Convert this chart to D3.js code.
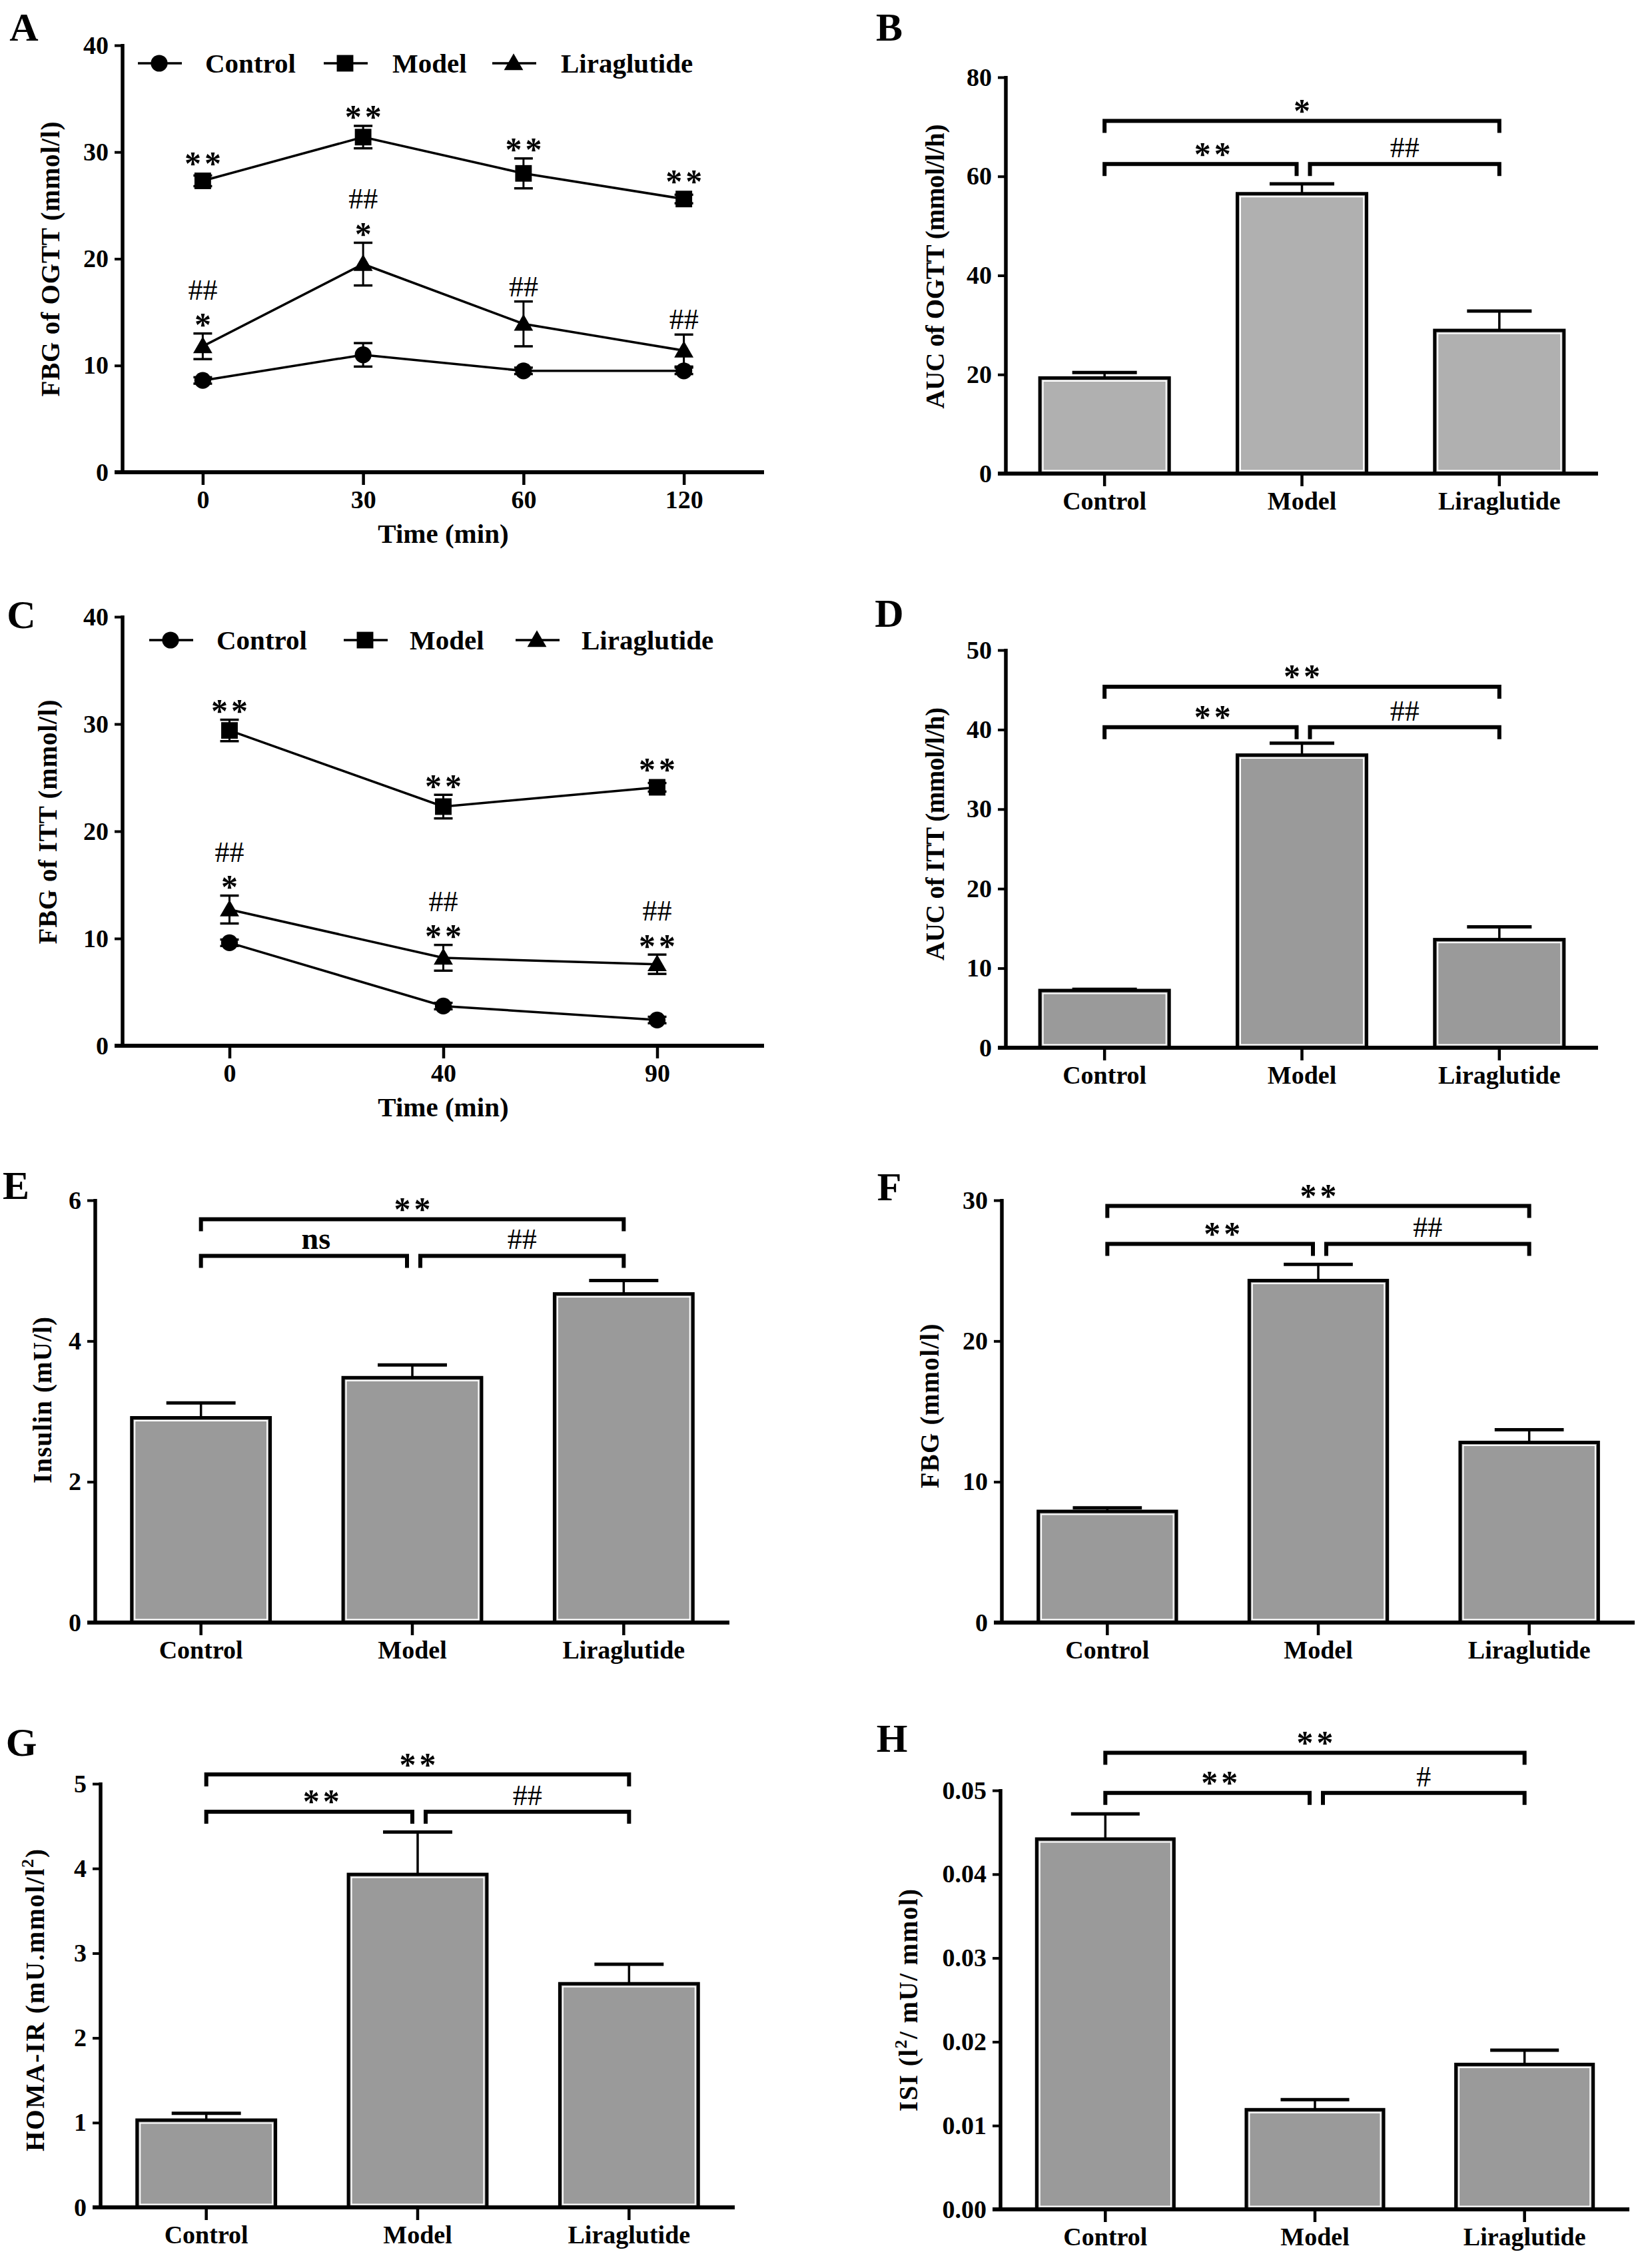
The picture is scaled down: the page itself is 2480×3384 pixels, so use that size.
<!DOCTYPE html>
<html><head><meta charset="utf-8">
<script src="https://cdn.jsdelivr.net/npm/d3@7"></script>
<style>html,body{margin:0;padding:0;background:#fff}svg{display:block}</style>
</head><body>
<svg id="fig" width="2480" height="3384"></svg>
<script>
// ---------------- DATA ----------------
const groups = ["Control", "Model", "Liraglutide"];
const seriesNames = ["Control", "Model", "Liraglutide"];

// A: OGTT
const ogttTimes = ["0", "30", "60", "120"];
const ogttControl = [8.6, 11.0, 9.5, 9.5];
const ogttControlErr = [0.3, 1.1, 0.3, 0.3];
const ogttModel = [27.3, 31.4, 28.0, 25.6];
const ogttModelErr = [0.5, 1.05, 1.4, 0.4];
const ogttLira = [11.8, 19.5, 13.9, 11.4];
const ogttLiraErr = [1.2, 2.0, 2.1, 1.5];
const ogttControlSig = [[], [], [], []];
const ogttModelSig = [["**"], ["**"], ["**"], ["**"]];
const ogttLiraSig = [["*", "##"], ["*", "##"], ["##"], ["##"]];
const ogttTicks = [0, 10, 20, 30, 40];

// B: AUC of OGTT
const aucOgtt = [19.3, 56.5, 28.9];
const aucOgttErr = [1.1, 2.0, 3.9];
const aucOgttTicks = [0, 20, 40, 60, 80];
const aucOgttBrackets = [71.2, 62.5];
const aucOgttSig = ["*", "**", "##"];

// C: ITT
const ittTimes = ["0", "40", "90"];
const ittControl = [9.6, 3.7, 2.4];
const ittControlErr = [0.3, 0.3, 0.3];
const ittModel = [29.4, 22.3, 24.1];
const ittModelErr = [1.0, 1.1, 0.4];
const ittLira = [12.7, 8.2, 7.6];
const ittLiraErr = [1.3, 1.2, 0.9];
const ittControlSig = [[], [], []];
const ittModelSig = [["**"], ["**"], ["**"]];
const ittLiraSig = [["*", "##"], ["**", "##"], ["**", "##"]];
const ittTicks = [0, 10, 20, 30, 40];

// D: AUC of ITT
const aucItt = [7.2, 36.8, 13.6];
const aucIttErr = [0.15, 1.5, 1.6];
const aucIttTicks = [0, 10, 20, 30, 40, 50];
const aucIttBrackets = [45.4, 40.3];
const aucIttSig = ["**", "**", "##"];

// E: Insulin
const insulin = [2.91, 3.48, 4.67];
const insulinErr = [0.21, 0.18, 0.19];
const insulinTicks = [0, 2, 4, 6];
const insulinBrackets = [5.73, 5.21];
const insulinSig = ["**", "ns", "##"];

// F: FBG
const fbg = [7.9, 24.3, 12.8];
const fbgErr = [0.25, 1.15, 0.9];
const fbgTicks = [0, 10, 20, 30];
const fbgBrackets = [29.6, 26.9];
const fbgSig = ["**", "**", "##"];

// G: HOMA-IR
const homa = [1.03, 3.93, 2.64];
const homaErr = [0.08, 0.5, 0.23];
const homaTicks = [0, 1, 2, 3, 4, 5];
const homaBrackets = [5.11, 4.67];
const homaSig = ["**", "**", "##"];

// H: ISI
const isi = [0.0442, 0.0119, 0.0173];
const isiErr = [0.0030, 0.0012, 0.0017];
const isiTicks = [0, 0.01, 0.02, 0.03, 0.04, 0.05];
const isiBrackets = [0.0545, 0.0497];
const isiSig = ["**", "**", "#"];

// ---------------- DRAWING ----------------
const FONT = "'Liberation Serif','Times New Roman',Times,serif";
const svg = d3.select("#fig");
svg.append("rect").attr("width", 2480).attr("height", 3384).attr("fill", "#fff");

function txt(x, y, s, size, opts = {}) {
  return svg.append("text").attr("x", x).attr("y", y)
    .attr("font-family", FONT).attr("font-size", size)
    .attr("font-weight", opts.weight || "bold")
    .attr("text-anchor", opts.anchor || "middle")
    .attr("fill", "#000").text(s);
}

function panelLetter(L, cx, cy) { txt(cx, cy + 20, L, 60); }

function yLabel(cx, cy, parts, len) {
  const t = svg.append("text")
    .attr("transform", `translate(${cx + 14},${cy}) rotate(-90)`)
    .attr("font-family", FONT).attr("font-size", 39).attr("font-weight", "bold")
    .attr("text-anchor", "middle").attr("fill", "#000");
  parts.forEach(p => {
    const ts = t.append("tspan").text(p.t);
    if (p.sup) ts.attr("font-size", 26).attr("dy", -16);
    else if (p.after) ts.attr("dy", 16);
  });
  if (len) t.attr("textLength", len).attr("lengthAdjust", "spacing");
}

function yAxis(p, y, ticks, fmt) {
  const g = svg.append("g").attr("transform", `translate(${p.x0},0)`)
    .call(d3.axisLeft(y).tickValues(ticks).tickFormat(fmt).tickSize(12).tickSizeOuter(0).tickPadding(9));
  g.select(".domain").remove();
  g.selectAll(".tick line").attr("stroke", "#000").attr("stroke-width", 4);
  g.selectAll(".tick text").attr("font-family", FONT).attr("font-weight", "bold")
    .attr("font-size", 38).attr("fill", "#000");
  g.append("line").attr("x1", 0).attr("x2", 0)
    .attr("y1", p.yTop - 2).attr("y2", p.yBot + 3)
    .attr("stroke", "#000").attr("stroke-width", 5.5);
}

function xAxis(p, x) {
  const g = svg.append("g").attr("transform", `translate(0,${p.yBot})`)
    .call(d3.axisBottom(x).tickSize(19).tickSizeOuter(0).tickPadding(8));
  g.select(".domain").remove();
  g.selectAll(".tick line").attr("stroke", "#000").attr("stroke-width", 4.5);
  g.selectAll(".tick text").attr("font-family", FONT).attr("font-weight", "bold")
    .attr("font-size", 38).attr("fill", "#000");
  g.append("line").attr("x1", p.x0 - 12).attr("x2", p.x1).attr("y1", 0).attr("y2", 0)
    .attr("stroke", "#000").attr("stroke-width", 6);
}

// significance label styles
const SIGSTYLE = {
  "*": { fs: 50, k: 0.47, half: 11, ls: 5, w: "bold" },
  "#": { fs: 44, k: 0.34, half: 14, ls: 0, w: "normal" },
  "n": { fs: 46, k: 0.24, half: 11, ls: 0, w: "bold" }
};
function sig(s, cx, cy) {
  const st = SIGSTYLE[s[0]];
  svg.append("text").attr("x", cx + st.ls / 2).attr("y", cy + st.k * st.fs)
    .attr("text-anchor", "middle").attr("font-family", FONT)
    .attr("font-size", st.fs).attr("font-weight", st.w)
    .attr("letter-spacing", st.ls).attr("fill", "#000").text(s);
}
// stacked labels (bottom label first)
function sigStack(labels, cx, top) {
  let gap = 9;
  labels.forEach(lab => {
    const st = SIGSTYLE[lab[0]];
    const cy = top - gap - st.half;
    sig(lab, cx, cy);
    top = cy - st.half;
    gap = 21;
  });
}

const markerSym = [d3.symbolCircle, d3.symbolSquare, d3.symbolTriangle];
const markerSize = [500, 620, 360];

function linePanel(p, times, series, ticks, xTitle, legendPos) {
  const x = d3.scalePoint().domain(times).range([p.x0, p.x1]).padding(0.5);
  const y = d3.scaleLinear().domain([0, ticks[ticks.length - 1]]).range([p.yBot, p.yTop]);
  yAxis(p, y, ticks, d3.format("d"));
  xAxis(p, x);
  txt((p.x0 + p.x1) / 2, p.yBot + 106, xTitle, 41);

  const line = d3.line().x((d, i) => x(times[i])).y(d => y(d));
  series.forEach(s => {
    svg.append("path").datum(s.values).attr("d", line)
      .attr("fill", "none").attr("stroke", "#000").attr("stroke-width", 3.5);
  });
  series.forEach(s => {
    s.values.forEach((v, i) => {
      const cx = x(times[i]), e = s.errs[i];
      const y1 = y(v + e), y2 = y(v - e);
      svg.append("line").attr("x1", cx).attr("x2", cx).attr("y1", y1).attr("y2", y2)
        .attr("stroke", "#000").attr("stroke-width", 3);
      [y1, y2].forEach(yy => svg.append("line").attr("x1", cx - 14).attr("x2", cx + 14)
        .attr("y1", yy).attr("y2", yy).attr("stroke", "#000").attr("stroke-width", 3.5));
    });
  });
  series.forEach((s, si) => {
    s.values.forEach((v, i) => {
      svg.append("path").attr("d", d3.symbol().type(markerSym[si]).size(markerSize[si])())
        .attr("transform", `translate(${x(times[i])},${y(v) + (si === 2 ? 2 : 0)})`)
        .attr("fill", "#000");
    });
  });
  series.forEach(s => {
    s.values.forEach((v, i) => {
      const labels = s.sig[i];
      if (!labels.length) return;
      const top = Math.min(y(v + s.errs[i]), y(v) - 13);
      sigStack(labels, x(times[i]), top);
    });
  });
  // legend
  series.forEach((s, si) => {
    const lx = legendPos.lines[si], ly = legendPos.y;
    svg.append("line").attr("x1", lx).attr("x2", lx + 66).attr("y1", ly).attr("y2", ly)
      .attr("stroke", "#000").attr("stroke-width", 3.5);
    svg.append("path").attr("d", d3.symbol().type(markerSym[si]).size(markerSize[si])())
      .attr("transform", `translate(${lx + 32},${ly + (si === 2 ? 2 : 0)})`).attr("fill", "#000");
    txt(legendPos.texts[si], ly + 14, seriesNames[si], 41, { anchor: "start" });
  });
}

function barPanel(p, vals, errs, ticks, fmt, brackets, sigs, fill) {
  const x = d3.scaleBand().domain(groups).range([p.x0, p.x1]).paddingInner(0.345).paddingOuter(0.1725);
  const y = d3.scaleLinear().domain([0, ticks[ticks.length - 1]]).range([p.yBot, p.yTop]);
  const bw = x.bandwidth();
  groups.forEach((gname, i) => {
    const bx = x(gname), by = y(vals[i]);
    const cx = bx + bw / 2, ey = y(vals[i] + errs[i]);
    svg.append("line").attr("x1", cx).attr("x2", cx).attr("y1", by).attr("y2", ey)
      .attr("stroke", "#000").attr("stroke-width", 3.5);
    svg.append("line").attr("x1", cx - bw / 4).attr("x2", cx + bw / 4).attr("y1", ey).attr("y2", ey)
      .attr("stroke", "#000").attr("stroke-width", 5);
    svg.append("rect").attr("x", bx).attr("y", by).attr("width", bw).attr("height", p.yBot - by)
      .attr("fill", fill).attr("stroke", "#000").attr("stroke-width", 5);
    svg.append("rect").attr("x", bx + 4.5).attr("y", by + 4.5).attr("width", bw - 9)
      .attr("height", Math.max(0, p.yBot - by - 9))
      .attr("fill", "none").attr("stroke", "#fff").attr("stroke-width", 2);
  });
  yAxis(p, y, ticks, fmt);
  xAxis(p, x);

  const c = groups.map(gname => x(gname) + bw / 2);
  const bracket = (xa, xb, val) => {
    const yy = y(val);
    svg.append("path").attr("d", `M${xa},${yy + 18}V${yy}H${xb}V${yy + 18}`)
      .attr("fill", "none").attr("stroke", "#000").attr("stroke-width", 6)
      .attr("stroke-linejoin", "miter");
    return yy;
  };
  const yo = bracket(c[0], c[2], brackets[0]);
  const yi = bracket(c[0], c[1] - 8, brackets[1]);
  bracket(c[1] + 12, c[2], brackets[1]);
  const place = (lab, cx, yy) => sig(lab, cx, yy - 11 - SIGSTYLE[lab[0]].half);
  place(sigs[0], (c[0] + c[2]) / 2, yo);
  place(sigs[1], (c[0] + c[1] - 8) / 2 + 18, yi);
  place(sigs[2], (c[1] + 12 + c[2]) / 2, yi);
}

// ---------------- PANELS ----------------
const LIGHT = "#b0b0b0", MID = "#9a9a9a";

// A
const pA = { x0: 184, x1: 1147, yTop: 68, yBot: 709 };
linePanel(pA, ogttTimes, [
  { values: ogttControl, errs: ogttControlErr, sig: ogttControlSig },
  { values: ogttModel, errs: ogttModelErr, sig: ogttModelSig },
  { values: ogttLira, errs: ogttLiraErr, sig: ogttLiraSig }
], ogttTicks, "Time (min)", { y: 95, lines: [207, 486, 739], texts: [308, 589, 842] });
yLabel(75, 389, [{ t: "FBG of OGTT (mmol/l)" }], 413);
panelLetter("A", 36, 41);

// B
const pB = { x0: 1510, x1: 2399, yTop: 116, yBot: 711 };
barPanel(pB, aucOgtt, aucOgttErr, aucOgttTicks, d3.format("d"), aucOgttBrackets, aucOgttSig, LIGHT);
yLabel(1403, 400, [{ t: "AUC of OGTT (mmol/l/h)" }], 427);
panelLetter("B", 1335, 41);

// C
const pC = { x0: 184, x1: 1147, yTop: 926, yBot: 1570 };
linePanel(pC, ittTimes, [
  { values: ittControl, errs: ittControlErr, sig: ittControlSig },
  { values: ittModel, errs: ittModelErr, sig: ittModelSig },
  { values: ittLira, errs: ittLiraErr, sig: ittLiraSig }
], ittTicks, "Time (min)", { y: 961, lines: [224, 516, 774], texts: [325, 615, 873] });
yLabel(71, 1234, [{ t: "FBG of ITT (mmol/l)" }], 367);
panelLetter("C", 32, 923);

// D
const pD = { x0: 1510, x1: 2399, yTop: 976, yBot: 1573 };
barPanel(pD, aucItt, aucIttErr, aucIttTicks, d3.format("d"), aucIttBrackets, aucIttSig, MID);
yLabel(1403, 1252, [{ t: "AUC of ITT (mmol/l/h)" }], 380);
panelLetter("D", 1335, 921);

// E
const pE = { x0: 143, x1: 1095, yTop: 1802, yBot: 2436 };
barPanel(pE, insulin, insulinErr, insulinTicks, d3.format("d"), insulinBrackets, insulinSig, MID);
yLabel(63, 2102, [{ t: "Insulin (mU/l)" }], 250);
panelLetter("E", 24, 1780);

// F
const pF = { x0: 1504, x1: 2454, yTop: 1802, yBot: 2436 };
barPanel(pF, fbg, fbgErr, fbgTicks, d3.format("d"), fbgBrackets, fbgSig, MID);
yLabel(1395, 2111, [{ t: "FBG (mmol/l)" }], 247);
panelLetter("F", 1335, 1782);

// G
const pG = { x0: 151, x1: 1103, yTop: 2678, yBot: 3314 };
barPanel(pG, homa, homaErr, homaTicks, d3.format("d"), homaBrackets, homaSig, MID);
yLabel(52, 3003, [{ t: "HOMA-IR (mU.mmol/l" }, { t: "2", sup: true }, { t: ")", after: true }], 454);
panelLetter("G", 32, 2616);

// H
const pH = { x0: 1502, x1: 2446, yTop: 2688, yBot: 3317 };
barPanel(pH, isi, isiErr, isiTicks, d3.format(".2f"), isiBrackets, isiSig, MID);
yLabel(1363, 3003, [{ t: "ISI (l" }, { t: "2", sup: true }, { t: "/ mU/ mmol)", after: true }], 334);
panelLetter("H", 1339, 2610);
</script>
</body></html>
